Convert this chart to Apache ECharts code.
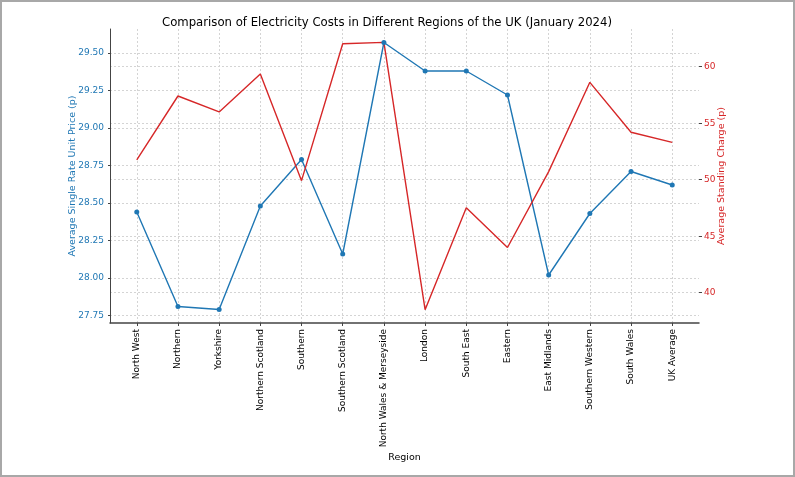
<!DOCTYPE html>
<html><head><meta charset="utf-8">
<script src="https://cdn.jsdelivr.net/npm/echarts@6/dist/echarts.min.js"></script>
<style>html,body{margin:0;padding:0;background:#fff}#c{width:795px;height:477px}#b{position:absolute;left:0;top:0;width:795px;height:477px;box-sizing:border-box;border:2px solid #a8a8a8;pointer-events:none}</style>
</head><body><div id="c"></div><div id="b"></div>
<script>
const regions = ["North West","Northern","Yorkshire","Northern Scotland","Southern","Southern Scotland","North Wales & Merseyside","London","South East","Eastern","East Midlands","Southern Western","South Wales","UK Average"];
const unitPrice = [28.44,27.81,27.79,28.48,28.79,28.16,29.57,29.38,29.38,29.22,28.02,28.43,28.71,28.62];
const standingCharge = [51.75,57.41,56.0,59.35,49.92,62.03,62.16,38.5,47.53,44.0,50.72,58.62,54.2,53.31];
const unitTicks = [27.75,28.00,28.25,28.50,28.75,29.00,29.25,29.50];
const chargeTicks = [40,45,50,55,60];
const catTicks = regions.map((_, i) => i);

const FONT = 'DejaVu Sans';
const gridLine = {show:true, lineStyle:{color:'#d4d4d4', type:[2,2], width:1}};
const chart = echarts.init(document.getElementById('c'), null, {renderer:'canvas'});
chart.setOption({
  animation:false,
  backgroundColor:'#fff',
  title:{text:'Comparison of Electricity Costs in Different Regions of the UK (January 2024)',
    left:382, top:12, textAlign:'center',
    textStyle:{fontFamily:FONT, fontSize:11.7, fontWeight:'normal', color:'#000'}},
  grid:{left:110, right:96, top:29, bottom:154},
  xAxis:{type:'value', min:-0.65, max:13.65,
    name:'Region', nameLocation:'middle', nameGap:130, nameMoveOverlap:false,
    nameTextStyle:{fontFamily:FONT, fontSize:9.5, color:'#000'},
    axisLine:{show:true, onZero:false, lineStyle:{color:'#444', width:1.5}},
    axisTick:{show:true, length:3, customValues:catTicks, lineStyle:{color:'#444'}},
    axisLabel:{customValues:catTicks, rotate:90, margin:6, fontFamily:FONT, fontSize:9, color:'#000',
      formatter:v => regions[Math.round(v)]},
    splitLine:gridLine},
  yAxis:[
    {type:'value', min:27.70, max:29.66, position:'left',
      name:'Average Single Rate Unit Price (p)', nameLocation:'middle', nameGap:32, nameMoveOverlap:false,
      nameTextStyle:{fontFamily:FONT, fontSize:9.5, color:'#1f77b4'},
      axisLine:{show:true, onZero:false, lineStyle:{color:'#444', width:1}},
      axisTick:{show:true, length:2, customValues:unitTicks, lineStyle:{color:'#444'}},
      axisLabel:{customValues:unitTicks, margin:6, fontFamily:FONT, fontSize:9, color:'#1f77b4',
        formatter:v => v.toFixed(2)},
      splitLine:gridLine},
    {type:'value', min:37.32, max:63.34, position:'right',
      name:'Average Standing Charge (p)', nameLocation:'middle', nameGap:18, nameMoveOverlap:false,
      nameTextStyle:{fontFamily:FONT, fontSize:9.5, color:'#d62728'},
      axisLine:{show:false, onZero:false},
      axisTick:{show:true, length:3, customValues:chargeTicks, lineStyle:{color:'#444'}},
      axisLabel:{customValues:chargeTicks, margin:5, fontFamily:FONT, fontSize:9, color:'#d62728'},
      splitLine:gridLine}
  ],
  series:[
    {type:'line', yAxisIndex:0, data:unitPrice.map((v,i)=>[i,v]),
      symbol:'circle', symbolSize:5, showSymbol:true,
      lineStyle:{color:'#1f77b4', width:1.4}, itemStyle:{color:'#1f77b4'}},
    {type:'line', yAxisIndex:1, data:standingCharge.map((v,i)=>[i,v]),
      showSymbol:false, symbol:'none',
      lineStyle:{color:'#d62728', width:1.4}, itemStyle:{color:'#d62728'}}
  ]
});
</script></body></html>
